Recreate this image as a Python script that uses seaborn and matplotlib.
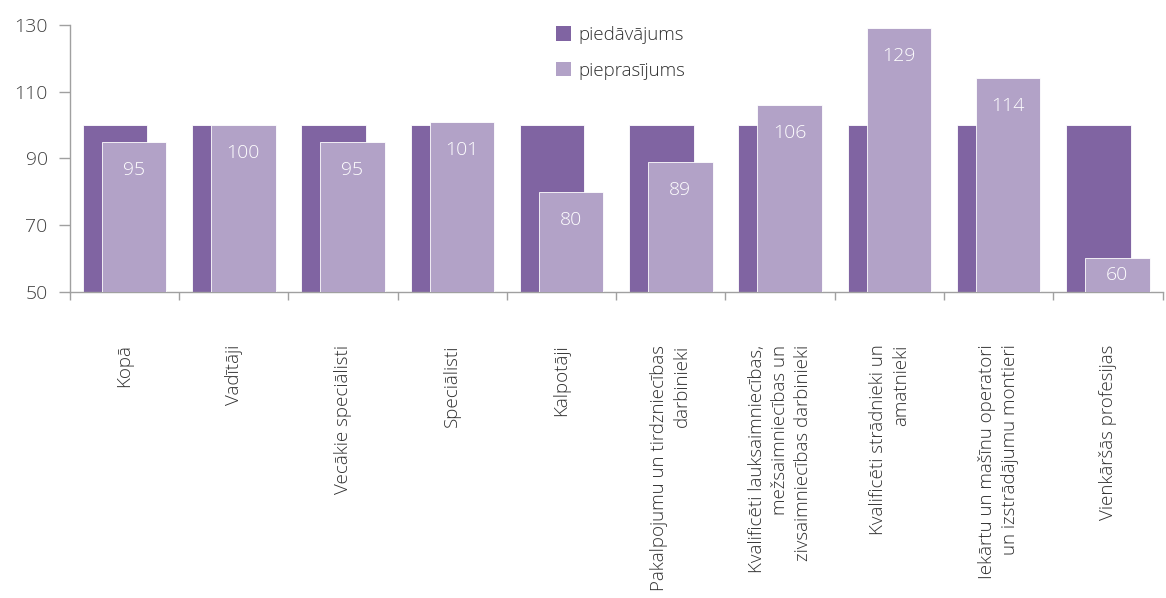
import matplotlib
matplotlib.use("Agg")
import matplotlib.pyplot as plt
import seaborn as sns
import pandas as pd
import numpy as np
from matplotlib.patches import Patch
from matplotlib.ticker import FixedLocator

categories = [
    "Kopā",
    "Vadītāji",
    "Vecākie speciālisti",
    "Speciālisti",
    "Kalpotāji",
    "Pakalpojumu un tirdzniecības\ndarbinieki",
    "Kvalificēti lauksaimniecības,\nmežsaimniecības un\nzivsaimniecības darbinieki",
    "Kvalificēti strādnieki un\namatnieki",
    "Iekārtu un mašīnu operatori\nun izstrādājumu montieri",
    "Vienkāršās profesijas",
]
supply = [100, 100, 100, 100, 100, 100, 100, 100, 100, 100]
demand = [95, 100, 95, 101, 80, 89, 106, 129, 114, 60]
series_names = ["piedāvājums", "pieprasījums"]
colors = ["#8064A2", "#B2A2C7"]
yticks = [50, 70, 90, 110, 130]

sns.set_style("white")
plt.rcParams['font.family'] = ['Open Sans', 'DejaVu Sans']
plt.rcParams['font.weight'] = 'light'

fig = plt.figure(figsize=(11.66, 5.98), dpi=100)
ax = fig.add_axes([0.060, 0.512, 0.937, 0.446])

df_s = pd.DataFrame({"cat": categories, "val": supply})
df_d = pd.DataFrame({"cat": categories, "val": demand})

bw = 0.59
off = 0.0865
sns.barplot(data=df_s, x="cat", y="val", color=colors[0], width=bw,
            saturation=1, edgecolor="white", linewidth=0.6, ax=ax)
n = len(ax.patches)
for p in ax.patches:
    p.set_x(p.get_x() - off)
sns.barplot(data=df_d, x="cat", y="val", color=colors[1], width=bw,
            saturation=1, edgecolor="white", linewidth=0.6, ax=ax)
for p in ax.patches[n:]:
    p.set_x(p.get_x() + off)
    p.set_zorder(3)

ymin = 50
for i, v in enumerate(demand):
    y = max(v - 8.4, (v + ymin) / 2)
    ax.text(i + off, y, str(v), ha="center", va="center",
            color="white", fontsize=14, fontweight="light", zorder=5)

ax.set_ylim(50, 130)
ax.set_xlim(-0.5, len(categories) - 0.5)
ax.set_yticks(yticks)
ax.set_xlabel("")
ax.set_ylabel("")

ax.xaxis.set_minor_locator(FixedLocator(np.arange(-0.5, len(categories), 1.0)))
ax.tick_params(axis="x", which="major", length=0, pad=38)
ax.tick_params(axis="x", which="minor", length=6, color="#A0A0A0", width=1, bottom=True)
ax.tick_params(axis="y", length=8, color="#A0A0A0", width=1, left=True, pad=8,
               labelsize=14, labelcolor="#404040")
for lbl in ax.get_xticklabels():
    lbl.set_rotation(90)
    lbl.set_ha("center")
    lbl.set_va("top")
    lbl.set_multialignment("right")
    lbl.set_fontsize(13.5)
    lbl.set_linespacing(1.35)
    lbl.set_color("#303030")

sns.despine(ax=ax, top=True, right=True)
for s in ["left", "bottom"]:
    ax.spines[s].set_color("#A0A0A0")
    ax.spines[s].set_linewidth(1)

handles = [Patch(facecolor=c, edgecolor="none") for c in colors]
fig.legend(handles, series_names, loc="upper left", bbox_to_anchor=(0.462, 0.985),
           frameon=False, fontsize=13.5, handlelength=0.8, handleheight=0.8,
           handletextpad=0.4, labelspacing=0.95, labelcolor="#303030")

fig.savefig("out.png", dpi=100)
